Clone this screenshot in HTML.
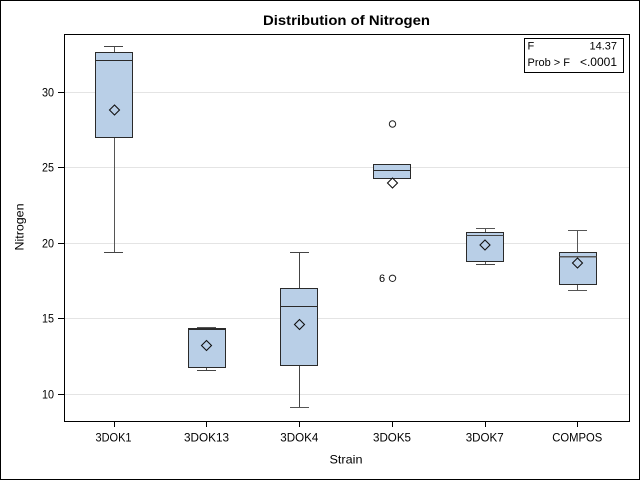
<!DOCTYPE html>
<html>
<head>
<meta charset="utf-8">
<style>
  html, body { margin: 0; padding: 0; background: #fff; }
  svg { display: block; }
  text { font-family: "Liberation Sans", Arial, sans-serif; fill: #000; }
</style>
</head>
<body>
<svg width="640" height="480" viewBox="0 0 640 480" xmlns="http://www.w3.org/2000/svg">
  <rect x="0" y="0" width="640" height="480" fill="#fff"/>
  <!-- outer border -->
  <rect x="0.5" y="0.5" width="639" height="479" fill="none" stroke="#000" stroke-width="1"/>

  <!-- title -->
  <text x="346.5" y="25" font-size="14" font-weight="bold" text-anchor="middle" textLength="167" lengthAdjust="spacingAndGlyphs">Distribution of Nitrogen</text>

  <!-- gridlines -->
  <g stroke="#e4e4e4" stroke-width="1" shape-rendering="crispEdges">
    <line x1="65" y1="394.5" x2="629" y2="394.5"/>
    <line x1="65" y1="318.5" x2="629" y2="318.5"/>
    <line x1="65" y1="243.5" x2="629" y2="243.5"/>
    <line x1="65" y1="167.5" x2="629" y2="167.5"/>
    <line x1="65" y1="92.5" x2="629" y2="92.5"/>
  </g>

  <!-- boxes -->
  <g shape-rendering="crispEdges">
    <!-- 3DOK1 -->
    <line x1="114.5" y1="46.5" x2="114.5" y2="52.5" stroke="#555"/>
    <line x1="114.5" y1="137.5" x2="114.5" y2="252.5" stroke="#555"/>
    <line x1="104" y1="46.5" x2="123" y2="46.5" stroke="#444"/>
    <line x1="104" y1="252.5" x2="123" y2="252.5" stroke="#444"/>
    <rect x="95.5" y="52.5" width="37" height="85" fill="#b9cfe7" stroke="#2a2a2a"/>
    <line x1="95.5" y1="60.5" x2="132.5" y2="60.5" stroke="#2a2a2a"/>

    <!-- 3DOK13 -->
    <line x1="206.5" y1="367.5" x2="206.5" y2="370.5" stroke="#555"/>
    <line x1="197" y1="327.5" x2="216" y2="327.5" stroke="#555"/>
    <line x1="197" y1="370.5" x2="216" y2="370.5" stroke="#444"/>
    <rect x="188.5" y="328.5" width="37" height="39" fill="#b9cfe7" stroke="#2a2a2a"/>
    <line x1="188.5" y1="329.5" x2="225.5" y2="329.5" stroke="#2a2a2a"/>

    <!-- 3DOK4 -->
    <line x1="299.5" y1="252.5" x2="299.5" y2="288.5" stroke="#444"/>
    <line x1="299.5" y1="365.5" x2="299.5" y2="407.5" stroke="#444"/>
    <line x1="290" y1="252.5" x2="309" y2="252.5" stroke="#444"/>
    <line x1="290" y1="407.5" x2="309" y2="407.5" stroke="#555"/>
    <rect x="280.5" y="288.5" width="37" height="77" fill="#b9cfe7" stroke="#2a2a2a"/>
    <line x1="280.5" y1="306.5" x2="317.5" y2="306.5" stroke="#2a2a2a"/>

    <!-- 3DOK5 -->
    <rect x="373.5" y="164.5" width="37" height="14" fill="#b9cfe7" stroke="#2a2a2a"/>
    <line x1="373.5" y1="170.5" x2="410.5" y2="170.5" stroke="#2a2a2a"/>

    <!-- 3DOK7 -->
    <line x1="485.5" y1="228.5" x2="485.5" y2="232.5" stroke="#555"/>
    <line x1="485.5" y1="261.5" x2="485.5" y2="264.5" stroke="#555"/>
    <line x1="476" y1="228.5" x2="495" y2="228.5" stroke="#555"/>
    <line x1="476" y1="264.5" x2="495" y2="264.5" stroke="#444"/>
    <rect x="466.5" y="232.5" width="37" height="29" fill="#b9cfe7" stroke="#2a2a2a"/>
    <line x1="466.5" y1="235.5" x2="503.5" y2="235.5" stroke="#444"/>

    <!-- COMPOS -->
    <line x1="577.5" y1="230.5" x2="577.5" y2="252.5" stroke="#555"/>
    <line x1="577.5" y1="284.5" x2="577.5" y2="290.5" stroke="#555"/>
    <line x1="568" y1="230.5" x2="587" y2="230.5" stroke="#555"/>
    <line x1="568" y1="290.5" x2="587" y2="290.5" stroke="#555"/>
    <rect x="559.5" y="252.5" width="37" height="32" fill="#b9cfe7" stroke="#2a2a2a"/>
    <line x1="559.5" y1="256.5" x2="596.5" y2="256.5" stroke="#555" stroke-width="1.5"/>
  </g>

  <!-- means (diamonds) -->
  <g fill="none" stroke="#111" stroke-width="1.1">
    <path d="M114.5,105 L119.5,110 L114.5,115 L109.5,110 Z"/>
    <path d="M206.5,340.5 L211.5,345.5 L206.5,350.5 L201.5,345.5 Z"/>
    <path d="M299.5,319.5 L304.5,324.5 L299.5,329.5 L294.5,324.5 Z"/>
    <path d="M392.5,178 L397.5,183 L392.5,188 L387.5,183 Z"/>
    <path d="M485,240 L490,245 L485,250 L480,245 Z"/>
    <path d="M577.5,258 L582.5,263 L577.5,268 L572.5,263 Z"/>
  </g>

  <!-- outliers -->
  <g fill="none" stroke="#222" stroke-width="1">
    <circle cx="392.5" cy="124" r="3.2"/>
    <circle cx="392.5" cy="278.3" r="3.2"/>
  </g>
  <text x="382" y="282" font-size="11" text-anchor="middle">6</text>

  <!-- plot frame -->
  <rect x="64.5" y="34.5" width="565" height="387" fill="none" stroke="#000" stroke-width="1" shape-rendering="crispEdges"/>

  <!-- y ticks -->
  <g stroke="#000" shape-rendering="crispEdges">
    <line x1="58" y1="394.5" x2="64" y2="394.5"/>
    <line x1="58" y1="318.5" x2="64" y2="318.5"/>
    <line x1="58" y1="243.5" x2="64" y2="243.5"/>
    <line x1="58" y1="167.5" x2="64" y2="167.5"/>
    <line x1="58" y1="92.5" x2="64" y2="92.5"/>
  </g>
  <g font-size="12" text-anchor="end">
    <text x="54" y="398.5" textLength="12" lengthAdjust="spacingAndGlyphs">10</text>
    <text x="54" y="322.5" textLength="12" lengthAdjust="spacingAndGlyphs">15</text>
    <text x="54" y="247.5" textLength="12" lengthAdjust="spacingAndGlyphs">20</text>
    <text x="54" y="171.5" textLength="12" lengthAdjust="spacingAndGlyphs">25</text>
    <text x="54" y="96.5" textLength="12" lengthAdjust="spacingAndGlyphs">30</text>
  </g>

  <!-- y axis label -->
  <text transform="translate(23.5,227) rotate(-90)" font-size="12" text-anchor="middle" textLength="47" lengthAdjust="spacingAndGlyphs">Nitrogen</text>

  <!-- x ticks -->
  <g stroke="#000" shape-rendering="crispEdges">
    <line x1="114.5" y1="422" x2="114.5" y2="427"/>
    <line x1="206.5" y1="422" x2="206.5" y2="427"/>
    <line x1="299.5" y1="422" x2="299.5" y2="427"/>
    <line x1="392.5" y1="422" x2="392.5" y2="427"/>
    <line x1="485.5" y1="422" x2="485.5" y2="427"/>
    <line x1="577.5" y1="422" x2="577.5" y2="427"/>
  </g>
  <g font-size="12" text-anchor="middle">
    <text x="113.5" y="441.5" textLength="36" lengthAdjust="spacingAndGlyphs">3DOK1</text>
    <text x="206.5" y="441.5" textLength="45" lengthAdjust="spacingAndGlyphs">3DOK13</text>
    <text x="299.3" y="441.5" textLength="38" lengthAdjust="spacingAndGlyphs">3DOK4</text>
    <text x="392" y="441.5" textLength="38" lengthAdjust="spacingAndGlyphs">3DOK5</text>
    <text x="484.7" y="441.5" textLength="38" lengthAdjust="spacingAndGlyphs">3DOK7</text>
    <text x="577.3" y="441.5" textLength="50" lengthAdjust="spacingAndGlyphs">COMPOS</text>
  </g>

  <!-- x axis label -->
  <text x="346" y="463.5" font-size="12" text-anchor="middle" textLength="33" lengthAdjust="spacingAndGlyphs">Strain</text>

  <!-- stats inset -->
  <rect x="524.5" y="38.5" width="99" height="34" fill="#fff" stroke="#000" stroke-width="1" shape-rendering="crispEdges"/>
  <g font-size="11">
    <text x="527.5" y="49.5">F</text>
    <text x="617" y="49.5" text-anchor="end">14.37</text>
    <text x="527.5" y="66">Prob &gt; F</text>
    <text x="617" y="66" text-anchor="end" font-size="12">&lt;.0001</text>
  </g>
</svg>
</body>
</html>
